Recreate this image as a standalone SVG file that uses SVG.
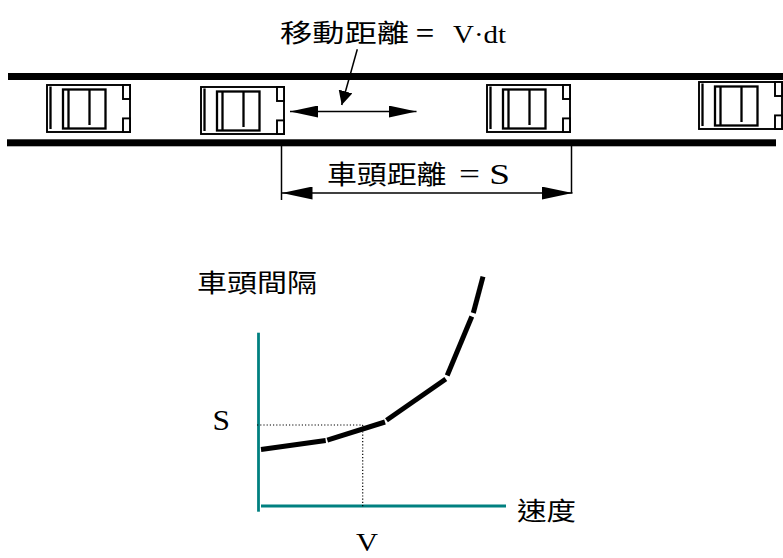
<svg xmlns="http://www.w3.org/2000/svg" width="783" height="558" viewBox="0 0 783 558">
  <style>
    .cjk { font-family: "Noto Sans CJK TC", "Noto Sans CJK JP", sans-serif; font-weight: 400; fill: #000; }
    .serif { font-family: "Liberation Serif", "Times New Roman", serif; fill: #000; }
    .road { fill: #000; }
    .thin { stroke: #000; stroke-width: 1.5; fill: none; }
    .axis { stroke: #008080; stroke-width: 2.8; fill: none; }
    .curve { stroke: #000; stroke-width: 5; fill: none; stroke-linecap: butt; }
    .dots { stroke: #000; stroke-width: 1.2; stroke-dasharray: 1.2 2; fill: none; }
    .car-body { fill: #fff; stroke: #000; stroke-width: 1.9; }
    .car-line { fill: none; stroke: #000; stroke-width: 2.3; }
  </style>
  <defs>
    <!-- car seen from above, nose to the right -->
    <g id="car">
      <rect class="car-body" x="0" y="0" width="83" height="47"/>
      <line class="car-line" x1="3.5" y1="1.5" x2="3.5" y2="44" stroke-width="1.6"/>
      <rect class="car-line" x="16" y="4.5" width="42.5" height="39"/>
      <line class="car-line" x1="21.5" y1="4.5" x2="21.5" y2="43.5"/>
      <line class="car-line" x1="42.5" y1="4.5" x2="42.5" y2="40"/>
      <rect class="car-body" x="76" y="0" width="7" height="14"/>
      <rect class="car-body" x="76" y="33.4" width="7" height="13.6"/>
    </g>
    <marker id="head-move" markerUnits="userSpaceOnUse" markerWidth="28" markerHeight="12" refX="28" refY="6" orient="auto-start-reverse">
      <path d="M0,0 L28,6 L0,12 Z" fill="#000"/>
    </marker>
    <marker id="head-dim" markerUnits="userSpaceOnUse" markerWidth="31" markerHeight="13" refX="31" refY="6.5" orient="auto-start-reverse">
      <path d="M0,0 L31,6.5 L0,13 Z" fill="#000"/>
    </marker>
    <marker id="head-lead" markerUnits="userSpaceOnUse" markerWidth="14" markerHeight="14" refX="14" refY="7" orient="auto">
      <path d="M0,0 L14,7 L0,14 Z" fill="#000"/>
    </marker>
  </defs>

  <!-- road edges -->
  <g id="road">
    <rect class="road" x="8" y="73" width="775" height="7"/>
    <rect class="road" x="7" y="139.3" width="769" height="7"/>
  </g>

  <!-- vehicles -->
  <g id="car1"><use href="#car" x="47" y="85"/></g>
  <g id="car2"><use href="#car" x="201" y="87"/></g>
  <g id="car3"><use href="#car" x="487" y="85"/></g>
  <g id="car4"><use href="#car" x="699" y="82"/></g>

  <!-- labels -->
  <g id="label-move">
    <text class="cjk" x="280" y="41.5" font-size="25" textLength="154" lengthAdjust="spacingAndGlyphs">移動距離 =</text>
    <text class="serif" x="453" y="42.7" font-size="25" textLength="53" lengthAdjust="spacingAndGlyphs">V·dt</text>
  </g>
  <g id="label-gap">
    <text class="cjk" x="327" y="183.5" font-size="26" textLength="119.5" lengthAdjust="spacingAndGlyphs">車頭距離</text>
    <text class="serif" x="459" y="183.5" font-size="30" textLength="51" lengthAdjust="spacingAndGlyphs">= S</text>
  </g>

  <!-- connectors -->
  <g id="connectors">
    <line class="thin" x1="357.3" y1="49.3" x2="341.7" y2="105" marker-end="url(#head-lead)"/>
    <line class="thin" x1="290" y1="111.5" x2="416.5" y2="111.5" marker-start="url(#head-move)" marker-end="url(#head-move)"/>
    <line class="thin" x1="281.5" y1="146" x2="281.5" y2="200"/>
    <line class="thin" x1="571.5" y1="146" x2="571.5" y2="193"/>
    <line class="thin" x1="281.5" y1="193" x2="572.5" y2="193" marker-start="url(#head-dim)" marker-end="url(#head-dim)"/>
  </g>

  <!-- headway versus speed chart -->
  <g id="chart">
    <text class="cjk" x="197" y="292" font-size="25" textLength="120" lengthAdjust="spacingAndGlyphs">車頭間隔</text>
    <text class="cjk" x="517" y="520" font-size="25" textLength="59" lengthAdjust="spacingAndGlyphs">速度</text>
    <text class="serif" x="212.5" y="429.5" font-size="29" textLength="17.5" lengthAdjust="spacingAndGlyphs">S</text>
    <text class="serif" x="356" y="551" font-size="26" textLength="22" lengthAdjust="spacingAndGlyphs">V</text>
    <line class="axis" x1="258.5" y1="332.7" x2="258.5" y2="511.7"/>
    <line class="axis" x1="261" y1="506" x2="506" y2="506"/>
    <line class="dots" x1="257" y1="425" x2="363" y2="425"/>
    <line class="dots" x1="362.7" y1="425" x2="362.7" y2="508"/>
    <line class="curve" x1="261" y1="449.5" x2="325.7" y2="440.6"/>
    <line class="curve" x1="327.3" y1="440.2" x2="385" y2="422"/>
    <line class="curve" x1="386.5" y1="420.3" x2="445.8" y2="379"/>
    <line class="curve" x1="447.2" y1="375.5" x2="471.8" y2="316.5"/>
    <line class="curve" x1="473.3" y1="313" x2="483" y2="276.7"/>
  </g>
</svg>
